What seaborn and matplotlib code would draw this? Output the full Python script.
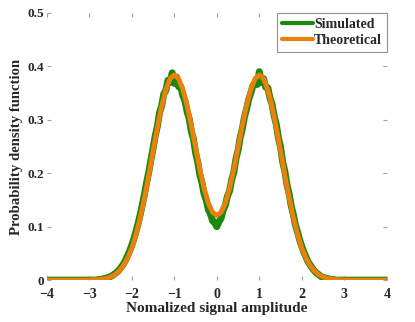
import numpy as np
import pandas as pd
import seaborn as sns
import matplotlib.pyplot as plt

# theoretical pdf at x = 0, 0.1, ..., 4 (curve is symmetric)
theo_right = [0.121, 0.127, 0.144, 0.172, 0.207, 0.248, 0.289, 0.327, 0.357, 0.377,
              0.384, 0.377, 0.356, 0.325, 0.285, 0.242, 0.197, 0.155, 0.118, 0.086,
              0.060, 0.041, 0.027, 0.017, 0.010, 0.006, 0.003, 0.002, 0.001, 0.0005,
              0.0002, 0, 0, 0, 0, 0, 0, 0, 0, 0, 0]

# simulated histogram at x = -3, -2.95, ..., -0.05
sim_left = [0, 0, 0, 0, 0.001, 0.001, 0.002, 0.003, 0.004, 0.005,
            0.007, 0.009, 0.012, 0.015, 0.019, 0.024, 0.030, 0.037, 0.046, 0.055,
            0.066, 0.078, 0.092, 0.107, 0.124, 0.143, 0.162, 0.184, 0.203, 0.226,
            0.247, 0.270, 0.288, 0.313, 0.326, 0.348, 0.355, 0.374, 0.370, 0.388,
            0.368, 0.380, 0.362, 0.362, 0.345, 0.335, 0.315, 0.302, 0.278, 0.264,
            0.238, 0.221, 0.197, 0.182, 0.161, 0.150, 0.132, 0.124, 0.111, 0.107]
# and at x = 0, 0.05, ..., 3
sim_right = [0.100, 0.109, 0.116, 0.131, 0.140, 0.157, 0.167, 0.188, 0.202, 0.227,
             0.243, 0.267, 0.283, 0.305, 0.320, 0.338, 0.350, 0.364, 0.369, 0.366,
             0.390, 0.370, 0.377, 0.361, 0.360, 0.341, 0.329, 0.307, 0.291, 0.266,
             0.249, 0.221, 0.204, 0.179, 0.162, 0.139, 0.123, 0.103, 0.090, 0.075,
             0.063, 0.052, 0.043, 0.034, 0.028, 0.022, 0.017, 0.013, 0.010, 0.007,
             0.005, 0.004, 0.003, 0.002, 0.001, 0.001, 0, 0, 0, 0, 0]

x_ticks = [-4, -3, -2, -1, 0, 1, 2, 3, 4]
y_ticks = [0, 0.1, 0.2, 0.3, 0.4, 0.5]
y_labels = ['0', '0.1', '0.2', '0.3', '0.4', '0.5']

green = '#1d880f'
orange = '#ea810e'

theo_x = np.round(np.arange(-4, 4.001, 0.1), 2)
theo_y = theo_right[::-1] + theo_right[1:]
theo_df = pd.DataFrame({'x': theo_x, 'pdf': theo_y})

sim_x = np.round(np.arange(-4, 4.001, 0.05), 2)
pad = [0] * 20
sim_y = pad + sim_left + sim_right + pad
sim_df = pd.DataFrame({'x': sim_x, 'pdf': sim_y})

sns.set_style('ticks')
plt.rcParams['font.family'] = ['Liberation Serif', 'DejaVu Serif']
plt.rcParams['font.weight'] = 'bold'

fig = plt.figure(figsize=(4.15, 3.22), dpi=100)
ax = fig.add_axes([0.113, 0.130, 0.819, 0.830])

sns.lineplot(data=sim_df, x='x', y='pdf', color=green, lw=5, ax=ax,
             label='Simulated')
sns.lineplot(data=theo_df, x='x', y='pdf', color=orange, lw=3.5, ax=ax,
             label='Theoretical')

ax.set_xlim(-4, 4)
ax.set_ylim(0, 0.5)
ax.set_xticks(x_ticks)
ax.set_xticklabels([str(t).replace('-', '\u2212') for t in x_ticks])
ax.set_yticks(y_ticks)
ax.set_yticklabels(y_labels)
ax.tick_params(direction='in', length=3, width=0.8, color='#a0a0a0',
               labelsize=10, top=True, right=True)
ax.tick_params(axis='x', pad=5.5)
ax.tick_params(axis='y', pad=2, labelsize=9.5)
for s in ax.spines.values():
    s.set_visible(False)

ax.set_xlabel('Nomalized signal amplitude', fontsize=11, fontweight='bold', labelpad=1)
ax.set_ylabel('Probability density function', fontsize=10.6, fontweight='bold', labelpad=3)

leg = ax.legend(loc='upper right', bbox_to_anchor=(1.0, 1.0), borderaxespad=0,
                fontsize=10, handlelength=2.2, handletextpad=0.1,
                fancybox=False, framealpha=1, borderpad=0.35, labelspacing=0.25)
leg.get_frame().set_edgecolor('#909090')
leg.get_frame().set_linewidth(0.8)
for line in leg.get_lines():
    line.set_linewidth(3)

fig.savefig('out.png', dpi=100)
